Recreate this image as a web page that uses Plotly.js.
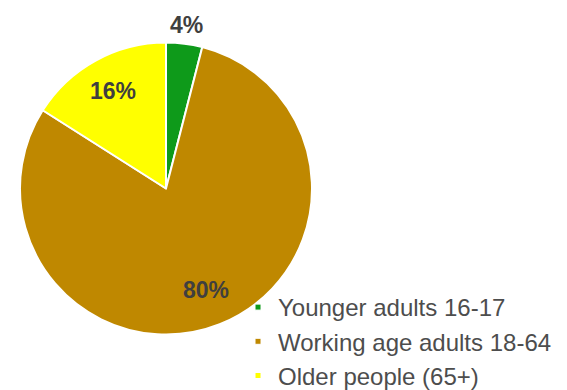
<!DOCTYPE html>
<html>
<head>
<meta charset="utf-8">
<script src="https://cdn.plot.ly/plotly-3.0.1.min.js"></script>
<style>
html,body{margin:0;padding:0;background:#fff;overflow:hidden;}
#chart{width:567px;height:398px;}
</style>
</head>
<body>
<div id="chart"></div>
<script>
const categories = ["Younger adults 16-17", "Working age adults 18-64", "Older people (65+)"];
const values = [4, 80, 16];
const colors = ["#0e9a1a", "#bf8800", "#ffff00"];

const W = 567, H = 398;
// pie box in pixels (left, top, right, bottom)
const box = { l: 20, t: 42.5, r: 312, b: 334.5 };
const domX = [box.l / W, box.r / W];
const domY = [1 - box.b / H, 1 - box.t / H];
// label radial placement (fraction of radius): outside for small slice, inside otherwise
const labelRadius = [1.13, 0.75, 0.76];

const trace = {
  type: "pie",
  labels: categories,
  values: values,
  sort: false,
  direction: "clockwise",
  rotation: 0,
  marker: { colors: colors, line: { color: "#ffffff", width: 2 } },
  textinfo: "none",
  domain: { x: domX, y: domY },
  hoverinfo: "none"
};

// Percentage labels placed along each slice's bisector, computed from the data
const total = values.reduce((a, b) => a + b, 0);
const cx = (box.l + box.r) / 2;
const cy = (box.t + box.b) / 2;
const r = Math.min(box.r - box.l, box.b - box.t) / 2;
let cum = 0;
const annotations = values.map((v, i) => {
  const mid = (cum + v / 2) / total * 2 * Math.PI;
  cum += v;
  const rr = labelRadius[i] * r;
  const px = cx + rr * Math.sin(mid);
  const py = cy - rr * Math.cos(mid);
  return {
    xref: "paper", yref: "paper",
    x: px / W, y: 1 - py / H,
    xanchor: "center", yanchor: "middle",
    showarrow: false,
    text: "<b>" + Math.round(v / total * 100) + "%</b>",
    font: { family: "Liberation Sans, Arial, sans-serif", size: 23, color: "#3f3f3f" }
  };
});

const layout = {
  width: W,
  height: H,
  margin: { l: 0, r: 0, t: 0, b: 0 },
  paper_bgcolor: "#ffffff",
  showlegend: true,
  annotations: annotations,
  legend: {
    x: 0.4198, y: 0, xanchor: "left", yanchor: "bottom",
    font: { family: "Liberation Sans, Arial, sans-serif", size: 24, color: "#4d4d4d" },
    bgcolor: "rgba(0,0,0,0)", borderwidth: 0, tracegroupgap: 0
  }
};

Plotly.newPlot("chart", [trace], layout, { staticPlot: true, displayModeBar: false }).then(() => {
  document.querySelectorAll("#chart .legend .legendpoints path").forEach(p => {
    const t = p.getAttribute("transform") || "";
    p.setAttribute("transform", (t + " scale(0.5)").trim());
  });
});
</script>
</body>
</html>
